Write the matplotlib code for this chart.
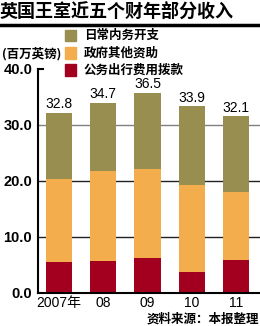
import matplotlib
matplotlib.use('Agg')
import matplotlib.pyplot as plt
from matplotlib.patches import Rectangle
from matplotlib.lines import Line2D

plt.rcParams['font.family'] = ['Noto Sans CJK SC', 'DejaVu Sans']
NUM = ['Liberation Sans', 'Noto Sans CJK SC']

# data (million pounds)
years = ['2007年', '08', '09', '10', '11']
totals = [32.8, 34.7, 36.5, 33.9, 32.1]        # printed labels
tops = [32.2, 34.0, 35.8, 33.4, 31.6]          # where the bars actually end
travel = [5.5, 5.8, 6.25, 3.75, 5.85]          # 公务出行费用拨款
grants = [14.9, 15.9, 15.95, 15.45, 12.25]     # 政府其他资助
series_names = ['日常内务开支', '政府其他资助', '公务出行费用拨款']
colors = ['#978e50', '#f4ad4c', '#a3001f']

# daily spending is the rest of the bar
daily = [t - a - b for t, a, b in zip(tops, travel, grants)]

fig = plt.figure(figsize=(2.6, 3.26), dpi=100)
W, H = 260, 326

ax = fig.add_axes([37.7 / W, 33 / H, (W - 37.7) / W, 224 / H])
x = list(range(len(years)))
bw = 0.59

# grid first so the bars sit on top
for v, c in [(10, '#222222'), (20, '#222222'), (30, '#808080')]:
    ax.axhline(v, color=c, lw=1.0, zorder=0)

ax.bar(x, travel, bw, color=colors[2], zorder=2)
ax.bar(x, grants, bw, bottom=travel, color=colors[1], zorder=2)
bottoms = [a + b for a, b in zip(travel, grants)]
ax.bar(x, daily, bw, bottom=bottoms, color=colors[0], zorder=2)

for i, t in enumerate(totals):
    ax.annotate(f'{t:.1f}', (x[i], tops[i]), xytext=(0, 1), textcoords='offset points',
                ha='center', va='bottom', fontsize=10, family=NUM)

ax.set_xlim(-0.48, 4.54)
ax.set_ylim(0, 40)
ax.set_yticks([0, 10, 20, 30, 40])
ax.set_yticklabels(['0.0', '10.0', '20.0', '30.0', '40.0'], fontsize=10.5,
                   fontweight='bold', family=NUM)
ax.set_xticks(x)
ax.set_xticklabels(years, fontsize=10, family=NUM)
ax.tick_params(axis='both', length=0, pad=2)
ax.tick_params(axis='y', pad=4)
for s in ['top', 'right']:
    ax.spines[s].set_visible(False)
ax.spines['left'].set_linewidth(1.5)
ax.spines['bottom'].set_linewidth(1.5)
ax.spines['left'].set_zorder(3)
# little tick at 40
ax.plot([-0.48, -0.36], [40, 40], color='black', lw=1.5, clip_on=False, zorder=3)

# title and rule
fig.text(0 / W, 1 - 11 / H, '英国王室近五个财年部分收入', fontsize=13, fontweight='bold',
         ha='left', va='center')
fig.add_artist(Line2D([0, 1], [1 - 24.5 / H, 1 - 24.5 / H], color='black', lw=2.5))

# legend by hand
rows = [35.5, 53, 70]
for name, c, yy in zip(series_names, colors, rows):
    fig.add_artist(Rectangle((65 / W, 1 - (yy + 5.5) / H), 11 / W, 11 / H,
                             color=c, transform=fig.transFigure))
    fig.text(84 / W, 1 - yy / H, name, fontsize=9, fontweight='bold',
             ha='left', va='center')

fig.text(2 / W, 1 - 54 / H, '(百万英镑)', fontsize=9, fontweight='bold',
         ha='left', va='center')
fig.text(259 / W, 1 - 319 / H, '资料来源：本报整理', fontsize=9, fontweight='bold',
         ha='right', va='center')

fig.savefig('out.png', dpi=100)
